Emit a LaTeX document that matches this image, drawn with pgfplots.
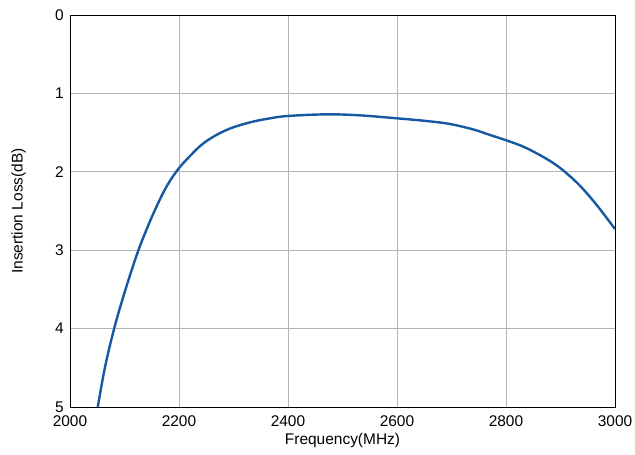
\documentclass[border=0pt]{standalone}
\usepackage{fontspec}
\setmainfont{Liberation Sans}
\usepackage{pgfplots}
\pgfplotsset{compat=1.18}
\definecolor{curve}{RGB}{22,88,162}
\definecolor{gridc}{RGB}{180,180,180}
\begin{document}
\fontsize{11.6}{13}\selectfont
\begin{tikzpicture}
\useasboundingbox (-52.5pt,-35.25pt) rectangle (423.75pt,305.25pt);
\begin{axis}[
  at={(0,0)}, anchor=south west,
  scale only axis, width=408.75pt, height=294pt,
  xmin=2000, xmax=3000, ymin=0, ymax=5, y dir=reverse,
  xtick={2000,2200,...,3000}, ytick={0,1,...,5},
  grid=major, major grid style={gridc, line width=0.6pt},
  major tick length=0pt,
  axis line style={black, line width=0.7pt},
  /pgf/number format/assume math mode=true,
  /pgf/number format/1000 sep={},
  tick label style={font=\fontsize{11.6}{13}\selectfont},
  label style={font=\fontsize{11.6}{13}\selectfont},
  xticklabel style={yshift=-2.2pt},
  yticklabel style={xshift=-0.6pt},
  xlabel={Frequency(MHz)},
  ylabel={Insertion Loss(dB)},
  xlabel style={at={(axis description cs:0.5,-0.0867)}, anchor=center},
  ylabel style={at={(axis description cs:-0.0944,0.5)}, anchor=center, rotate=0},
]
\addplot[curve, line width=1.8pt, smooth, tension=0.6] coordinates {
(2051,5.0) (2064,4.50) (2081,4.0) (2101,3.52) (2124,3.03) (2142,2.71) (2159,2.44) (2177,2.19)
(2197,1.98) (2220,1.80) (2248,1.62) (2287,1.467) (2330,1.37) (2367,1.318)
(2400,1.288) (2471,1.267) (2532,1.28) (2600,1.318) (2654,1.352) (2697,1.39)
(2740,1.46) (2771,1.531) (2800,1.597) (2832,1.68) (2862,1.786) (2887,1.89) (2908,2.0)
(2936,2.18) (2966,2.42) (3000,2.73)
};
\end{axis}
\end{tikzpicture}
\end{document}
